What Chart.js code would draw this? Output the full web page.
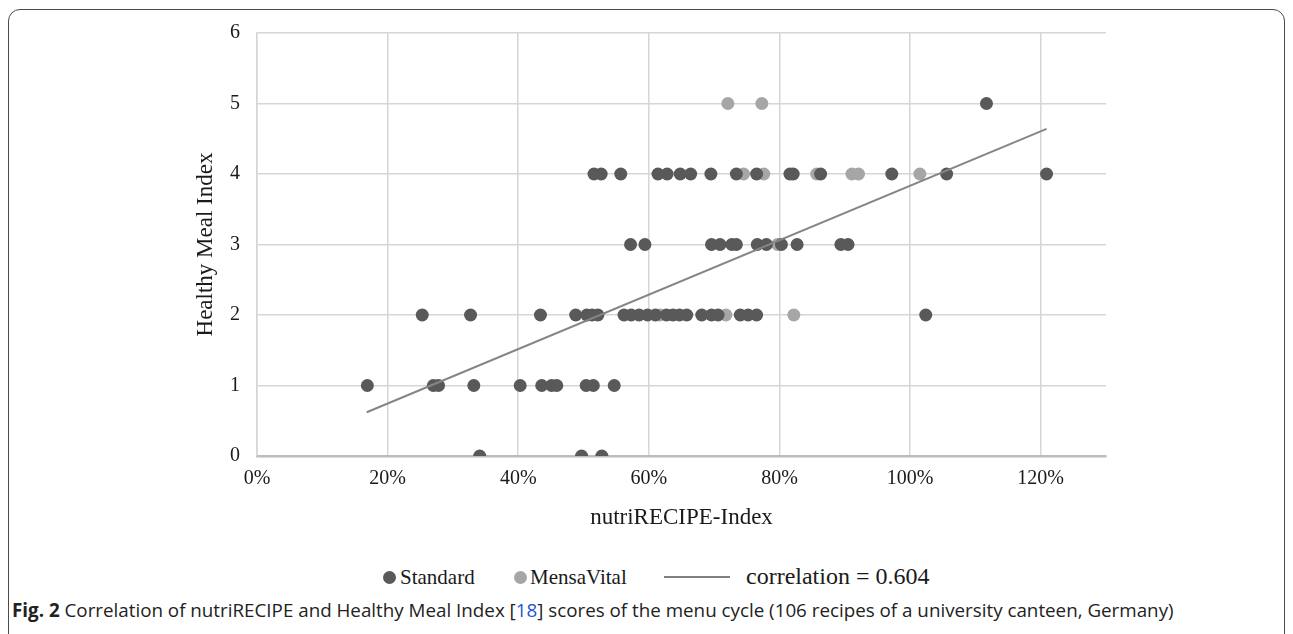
<!DOCTYPE html>
<html>
<head>
<meta charset="utf-8">
<script src="https://cdn.jsdelivr.net/npm/chart.js@4.4.0/dist/chart.umd.min.js"></script>
<style>
  html, body { margin: 0; padding: 0; background: #fff; }
  body { width: 1293px; height: 634px; overflow: hidden; position: relative; }
  .frame {
    position: absolute; left: 8px; top: 9px; width: 1277px; height: 700px;
    border: 1.5px solid #4a4a4a; border-radius: 12px; box-sizing: border-box;
  }
  #wrap { position: absolute; left: 0; top: 0; width: 1293px; height: 540px; }
  .lg { position: absolute; font-family: "Liberation Serif", serif; color: #1a1a1a; font-size: 21px; line-height: 24px; white-space: nowrap; }
  .dot { position: absolute; width: 13px; height: 13px; border-radius: 50%; top: 571px; }
  .line { position: absolute; left: 664px; top: 576px; width: 66px; height: 2px; background: #808080; }
  .caption {
    position: absolute; left: 12px; top: 597px; font-family: "Open Sans", sans-serif;
    font-size: 18.8px; color: #222; white-space: nowrap;
  }
  .caption b { font-weight: 700; }
  .caption span.ref { color: #1a56d6; }
</style>
</head>
<body>
<div class="frame"></div>
<div id="wrap"><canvas id="chart"></canvas></div>

<span class="dot" style="left:383px;background:#595959"></span>
<span class="lg" style="left:400px;top:565px">Standard</span>
<span class="dot" style="left:514px;background:#a6a6a6"></span>
<span class="lg" style="left:530px;top:565px">MensaVital</span>
<span class="line"></span>
<span class="lg" style="left:746px;top:564px;font-size:24px">correlation = 0.604</span>

<div class="caption"><b>Fig. 2</b> Correlation of nutriRECIPE and Healthy Meal Index [<span class="ref">18</span>] scores of the menu cycle (106 recipes of a university canteen, Germany)</div>

<script>
// nutriRECIPE-Index values (fraction) grouped by Healthy Meal Index score
const standardX = [
    // HMI 0
    0.341, 0.497, 0.528,
    // HMI 1
    0.169, 0.270, 0.278, 0.332, 0.403, 0.436, 0.451, 0.459, 0.504, 0.515, 0.547,
    // HMI 2
    0.253, 0.327, 0.434, 0.488, 0.505, 0.513, 0.522, 0.562, 0.573, 0.585, 0.598, 0.610,
    0.627, 0.637, 0.647, 0.658, 0.681, 0.696, 0.706, 0.740, 0.752, 0.765, 1.024,
    // HMI 3
    0.572, 0.594, 0.696, 0.709, 0.727, 0.734, 0.766, 0.780, 0.803, 0.827, 0.894, 0.905,
    // HMI 4
    0.516, 0.527, 0.557, 0.614, 0.628, 0.648, 0.664, 0.695, 0.734, 0.765, 0.816, 0.821,
    0.863, 0.972, 1.056, 1.209,
    // HMI 5
    1.117
];
const standardY = [
    0, 0, 0,
    1, 1, 1, 1, 1, 1, 1, 1, 1, 1, 1,
    2, 2, 2, 2, 2, 2, 2, 2, 2, 2, 2, 2,
    2, 2, 2, 2, 2, 2, 2, 2, 2, 2, 2,
    3, 3, 3, 3, 3, 3, 3, 3, 3, 3, 3, 3,
    4, 4, 4, 4, 4, 4, 4, 4, 4, 4, 4, 4,
    4, 4, 4, 4,
    5
];
const mensaX = [0.617, 0.718, 0.822, 0.797, 0.745, 0.776, 0.857, 0.911, 0.921, 1.015, 0.721, 0.773];
const mensaY = [2, 2, 2, 3, 4, 4, 4, 4, 4, 4, 5, 5];

// linear trend line endpoints
const trendX = [0.168, 1.209];
const trendY = [0.62, 4.64];

const xTicks = [0, 0.2, 0.4, 0.6, 0.8, 1.0, 1.2];

const toPoints = (xs, ys) => xs.map((x, i) => ({ x: x, y: ys[i] }));

const serif = "'Liberation Serif', 'Times New Roman', serif";

new Chart(document.getElementById("chart"), {
    type: "scatter",
    data: {
        datasets: [
            {
                label: "correlation = 0.604",
                type: "line",
                data: toPoints(trendX, trendY),
                borderColor: "#858585",
                borderWidth: 2,
                pointRadius: 0,
                fill: false
            },
            {
                label: "Standard",
                data: toPoints(standardX, standardY),
                backgroundColor: "#595959",
                borderWidth: 0,
                pointRadius: 6.5,
                pointHoverRadius: 6.5
            },
            {
                label: "MensaVital",
                data: toPoints(mensaX, mensaY),
                backgroundColor: "#a6a6a6",
                borderWidth: 0,
                pointRadius: 6.5,
                pointHoverRadius: 6.5
            }
        ]
    },
    options: {
        responsive: true,
        maintainAspectRatio: false,
        animation: false,
        layout: { padding: { left: 188, right: 187, top: 33, bottom: 4 } },
        plugins: {
            legend: { display: false },
            tooltip: { enabled: false }
        },
        scales: {
            x: {
                type: "linear",
                min: 0,
                max: 1.3,
                afterBuildTicks: (axis) => { axis.ticks = xTicks.map(v => ({ value: v })); },
                afterFit: (axis) => { axis.height = 80; },
                grid: { color: "#d6d6d6", lineWidth: 1.5, drawTicks: false },
                border: { color: "#bdbdbd", width: 2.5 },
                ticks: {
                    padding: 11,
                    color: "#1a1a1a",
                    font: { family: serif, size: 20 },
                    callback: (v) => Math.round(v * 100) + "%"
                },
                title: {
                    display: true,
                    text: "nutriRECIPE-Index",
                    color: "#1a1a1a",
                    font: { family: serif, size: 23 },
                    padding: { top: 4, bottom: 4 }
                }
            },
            y: {
                min: 0,
                max: 6,
                afterFit: (axis) => { axis.width = 69; },
                grid: { color: "#d6d6d6", lineWidth: 1.5, drawTicks: false },
                border: { color: "#d6d6d6", width: 1.5 },
                ticks: {
                    stepSize: 1,
                    padding: 17,
                    color: "#1a1a1a",
                    font: { family: serif, size: 20 }
                },
                title: {
                    display: true,
                    text: "Healthy Meal Index",
                    color: "#1a1a1a",
                    font: { family: serif, size: 23 },
                    padding: { top: 4, bottom: 4 }
                }
            }
        }
    }
});
</script>
</body>
</html>
